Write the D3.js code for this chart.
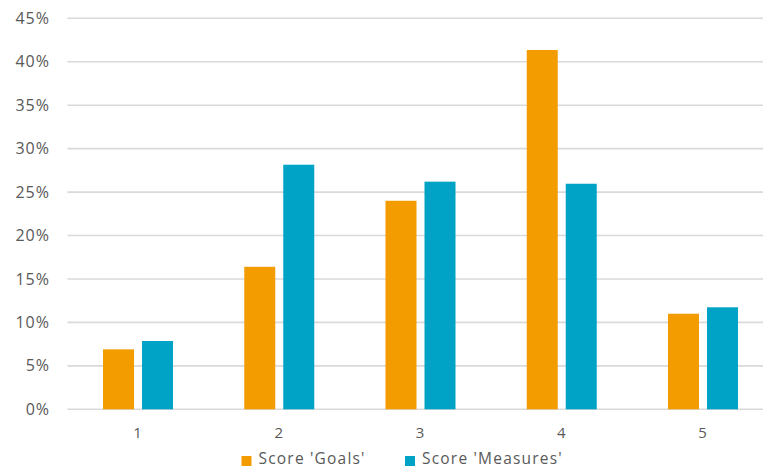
<!DOCTYPE html>
<html>
<head>
<meta charset="utf-8">
<script src="https://cdn.jsdelivr.net/npm/d3@7"></script>
<style>
  html, body { margin: 0; padding: 0; background: #fff; }
  svg text { font-family: "Open Sans", "Noto Sans", sans-serif; fill: #595959; letter-spacing: 1px; }
</style>
</head>
<body>
<svg id="chart" width="763" height="470"></svg>
<script>
const categories = ["1", "2", "3", "4", "5"];
const seriesNames = ["Score 'Goals'", "Score 'Measures'"];
const goals = [0.069, 0.164, 0.240, 0.4135, 0.110];
const measures = [0.0786, 0.2815, 0.262, 0.2596, 0.1174];
const yTicks = [0, 0.05, 0.10, 0.15, 0.20, 0.25, 0.30, 0.35, 0.40, 0.45];
const colors = ["#F39C00", "#00A3C6"];

const svg = d3.select("#chart");
const W = 763, H = 470;
const plotLeft = 67.4, plotRight = 773.6, yBottom = 409.3, yTop = 18.3;

const x0 = d3.scaleBand().domain(categories).range([plotLeft, plotRight]).padding(0);
const groupW = 70;
const x1 = d3.scaleBand().domain(seriesNames)
  .range([x0.bandwidth() / 2 - groupW / 2, x0.bandwidth() / 2 + groupW / 2])
  .paddingInner(8 / 39).paddingOuter(0);
const y = d3.scaleLinear().domain([0, 0.45]).range([yBottom, yTop]);

// gridlines
svg.append("g").selectAll("line").data(yTicks).join("line")
  .attr("x1", plotLeft).attr("x2", W)
  .attr("y1", d => y(d)).attr("y2", d => y(d))
  .attr("stroke", "#d9d9d9").attr("stroke-width", 1.6);

// y axis labels
const yAxis = d3.axisLeft(y).tickValues(yTicks).tickFormat(d3.format(".0%")).tickSize(0).tickPadding(0);
const gy = svg.append("g").attr("transform", `translate(50,0)`).call(yAxis);
gy.select(".domain").remove();
gy.selectAll("text").attr("font-size", 16).style("font-family", "\"Open Sans\", sans-serif").attr("fill", "#595959");

// bars
const data = categories.map((c, i) => ({ cat: c, vals: [goals[i], measures[i]] }));
const groups = svg.append("g").selectAll("g").data(data).join("g")
  .attr("transform", d => `translate(${x0(d.cat)},0)`);
groups.selectAll("rect").data(d => d.vals.map((v, j) => ({ name: seriesNames[j], v, j })))
  .join("rect")
  .attr("x", d => x1(d.name))
  .attr("width", x1.bandwidth())
  .attr("y", d => y(d.v))
  .attr("height", d => y(0) - y(d.v))
  .attr("fill", d => colors[d.j]);

// x axis labels
const xAxis = d3.axisBottom(x0).tickSize(0).tickPadding(0);
const gx = svg.append("g").attr("transform", `translate(0,427)`).call(xAxis);
gx.select(".domain").remove();
gx.selectAll("text").attr("font-size", 15).style("font-family", "\"Open Sans\", sans-serif").attr("fill", "#595959");

// legend
const legendItems = [{ name: seriesNames[0], x: 241.5, color: colors[0] }, { name: seriesNames[1], x: 405, color: colors[1] }];
const lg = svg.append("g").selectAll("g").data(legendItems).join("g")
  .attr("transform", d => `translate(${d.x},456)`);
lg.append("rect").attr("width", 10).attr("height", 10).attr("fill", d => d.color);
lg.append("text").attr("x", 17).attr("y", 3).attr("dy", "0.35em")
  .attr("font-size", 15.5).style("letter-spacing", "1.2px").text(d => d.name);
</script>
</body>
</html>
